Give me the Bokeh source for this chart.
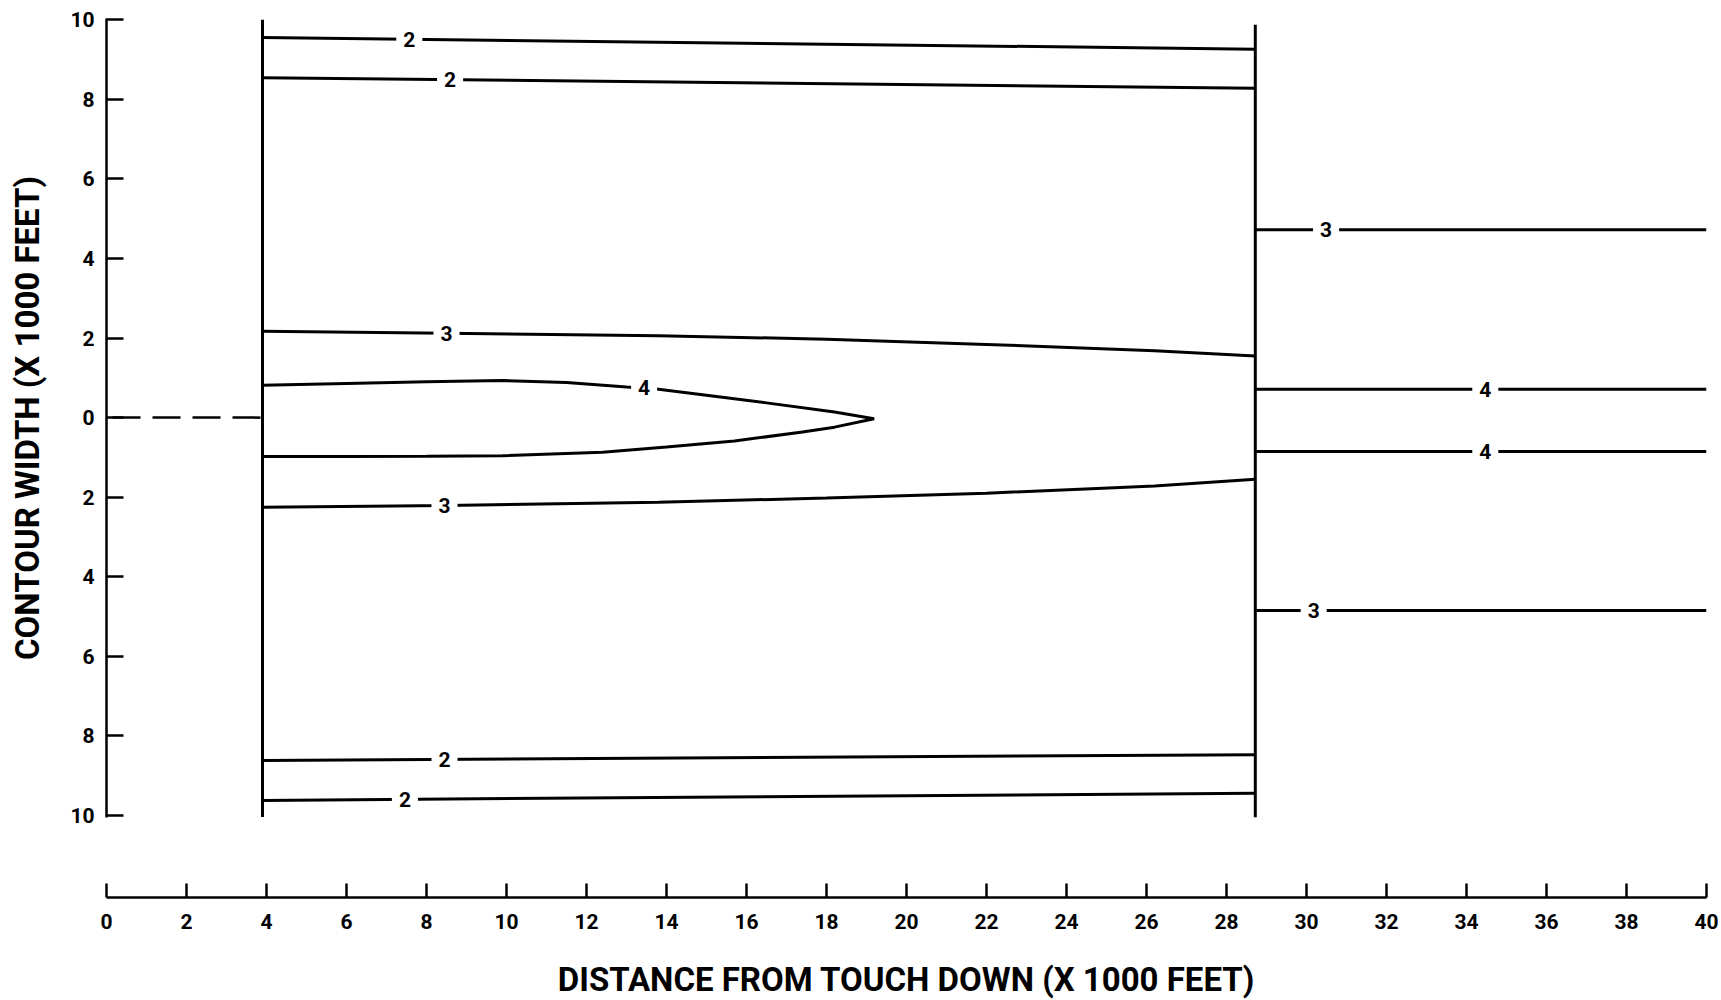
from bokeh.plotting import figure
from bokeh.models import Range1d, FixedTicker
from bokeh.layouts import column
from bokeh.embed import file_html
from bokeh.resources import INLINE
from bokeh.core.properties import value

# ---------------- data ----------------
x_ticks = list(range(0, 41, 2))
y_ticks = list(range(-10, 11, 2))
y_tick_labels = [str(abs(t)) for t in y_ticks]

# zone boundaries (x, 1000 ft) and their vertical extent
wall_x = [3.9, 28.72]
wall_y_top = [10.0, 9.87]
wall_y_bot = [-10.04, -10.05]

# runway centreline (dashed) before the first zone
center_x = [0.15, 3.9]
center_y = [0.0, 0.0]

# contours in the first zone
c2_top_x = [3.9, 28.72]
c2_top_y = [9.55, 9.26]
c2_up_x = [3.9, 28.72]
c2_up_y = [8.54, 8.28]
c3_up_x = [3.9, 8.5, 13.8, 18.0, 22.0, 26.2, 28.72]
c3_up_y = [2.17, 2.12, 2.06, 1.97, 1.84, 1.68, 1.55]
c4_x = [3.9, 6.0, 8.0, 9.9, 11.5, 13.0, 13.65, 15.0, 16.5, 18.2, 19.19,
        18.2, 17.4, 15.7, 14.0, 12.4, 9.9, 8.0, 6.0, 3.9]
c4_y = [0.81, 0.86, 0.90, 0.93, 0.88, 0.77, 0.73, 0.56, 0.37, 0.14, -0.03,
        -0.24, -0.36, -0.59, -0.74, -0.87, -0.96, -0.97, -0.975, -0.975]
c3_lo_x = [3.9, 8.5, 13.8, 18.0, 22.0, 26.2, 28.72]
c3_lo_y = [-2.25, -2.21, -2.13, -2.02, -1.90, -1.72, -1.55]
c2_lo_x = [3.9, 28.72]
c2_lo_y = [-8.62, -8.47]
c2_bot_x = [3.9, 28.72]
c2_bot_y = [-9.62, -9.44]

# contours in the second zone
r_x = [28.72, 40.0]
r3_up_y = [4.72, 4.72]
r4_up_y = [0.71, 0.71]
r4_lo_y = [-0.85, -0.85]
r3_lo_y = [-4.85, -4.85]

# contour labels
lab_text = ["2", "2", "3", "4", "3", "2", "2", "3", "4", "4", "3"]
lab_x = [7.57, 8.59, 8.5, 13.44, 8.45, 8.45, 7.46, 30.49, 34.47, 34.47, 30.18]
lab_y = [9.51, 8.49, 2.12, 0.75, -2.21, -8.59, -9.59, 4.72, 0.71, -0.85, -4.85]

# ---------------- style ----------------
FONT = "Roboto"
LW = 3

p = figure(frame_width=1600, frame_height=799,
           x_range=Range1d(0, 40), y_range=Range1d(-10.05, 10.03),
           x_axis_location=None, output_backend="svg", toolbar_location=None,
           min_border_left=106, min_border_right=12, min_border_top=18,
           min_border_bottom=14)
p.outline_line_color = None
p.grid.visible = False
p.background_fill_color = "white"

yax = p.yaxis[0]
yax.ticker = FixedTicker(ticks=y_ticks)
yax.major_label_overrides = {t: l for t, l in zip(y_ticks, y_tick_labels)}
yax.major_tick_in = 17
yax.major_tick_out = 0
yax.minor_tick_line_color = None
yax.axis_line_width = 2.5
yax.major_tick_line_width = 2.5
yax.major_label_standoff = 12
yax.major_label_text_font = FONT
yax.major_label_text_font_style = "bold"
yax.major_label_text_font_size = "21px"
yax.major_label_text_color = "black"
yax.axis_label = "CONTOUR WIDTH (X 1000 FEET)"
yax.axis_label_text_font = FONT
yax.axis_label_text_font_style = "bold"
yax.axis_label_text_font_size = "33px"
yax.axis_label_text_color = "black"
yax.axis_label_standoff = 20

# zone walls
p.segment(x0=wall_x, y0=wall_y_bot, x1=wall_x, y1=wall_y_top,
          line_color="black", line_width=LW)
p.line(center_x, center_y, line_color="black", line_width=2.5,
       line_dash="28 12")

for xs, ys in [(c2_top_x, c2_top_y), (c2_up_x, c2_up_y), (c3_up_x, c3_up_y),
               (c4_x, c4_y), (c3_lo_x, c3_lo_y), (c2_lo_x, c2_lo_y),
               (c2_bot_x, c2_bot_y), (r_x, r3_up_y), (r_x, r4_up_y),
               (r_x, r4_lo_y), (r_x, r3_lo_y)]:
    p.line(xs, ys, line_color="black", line_width=LW)

p.text(x=lab_x, y=lab_y, text=lab_text, text_align="center",
       text_baseline="middle", text_font=value(FONT), text_font_style="bold",
       text_font_size="21px", text_color="black",
       background_fill_color="white",
       padding=dict(left=7, right=7, top=0, bottom=0))

# bottom axis figure
b = figure(frame_width=1600, frame_height=10,
           x_range=p.x_range, y_range=Range1d(0, 1),
           y_axis_location=None, output_backend="svg", toolbar_location=None,
           min_border_left=106, min_border_right=12, min_border_top=56,
           min_border_bottom=0)
b.outline_line_color = None
b.grid.visible = False
xax = b.xaxis[0]
xax.ticker = FixedTicker(ticks=x_ticks)
xax.major_tick_in = 14
xax.major_tick_out = 0
xax.minor_tick_line_color = None
xax.axis_line_width = 2.5
xax.major_tick_line_width = 2.5
xax.major_label_standoff = 16
xax.major_label_text_font = FONT
xax.major_label_text_font_style = "bold"
xax.major_label_text_font_size = "21px"
xax.major_label_text_color = "black"
xax.axis_label = "DISTANCE FROM TOUCH DOWN (X 1000 FEET)"
xax.axis_label_text_font = FONT
xax.axis_label_text_font_style = "bold"
xax.axis_label_text_font_size = "33px"
xax.axis_label_text_color = "black"
xax.axis_label_standoff = 28

layout = column(p, b, spacing=0)
open("out.html", "w").write(file_html(layout, INLINE))
